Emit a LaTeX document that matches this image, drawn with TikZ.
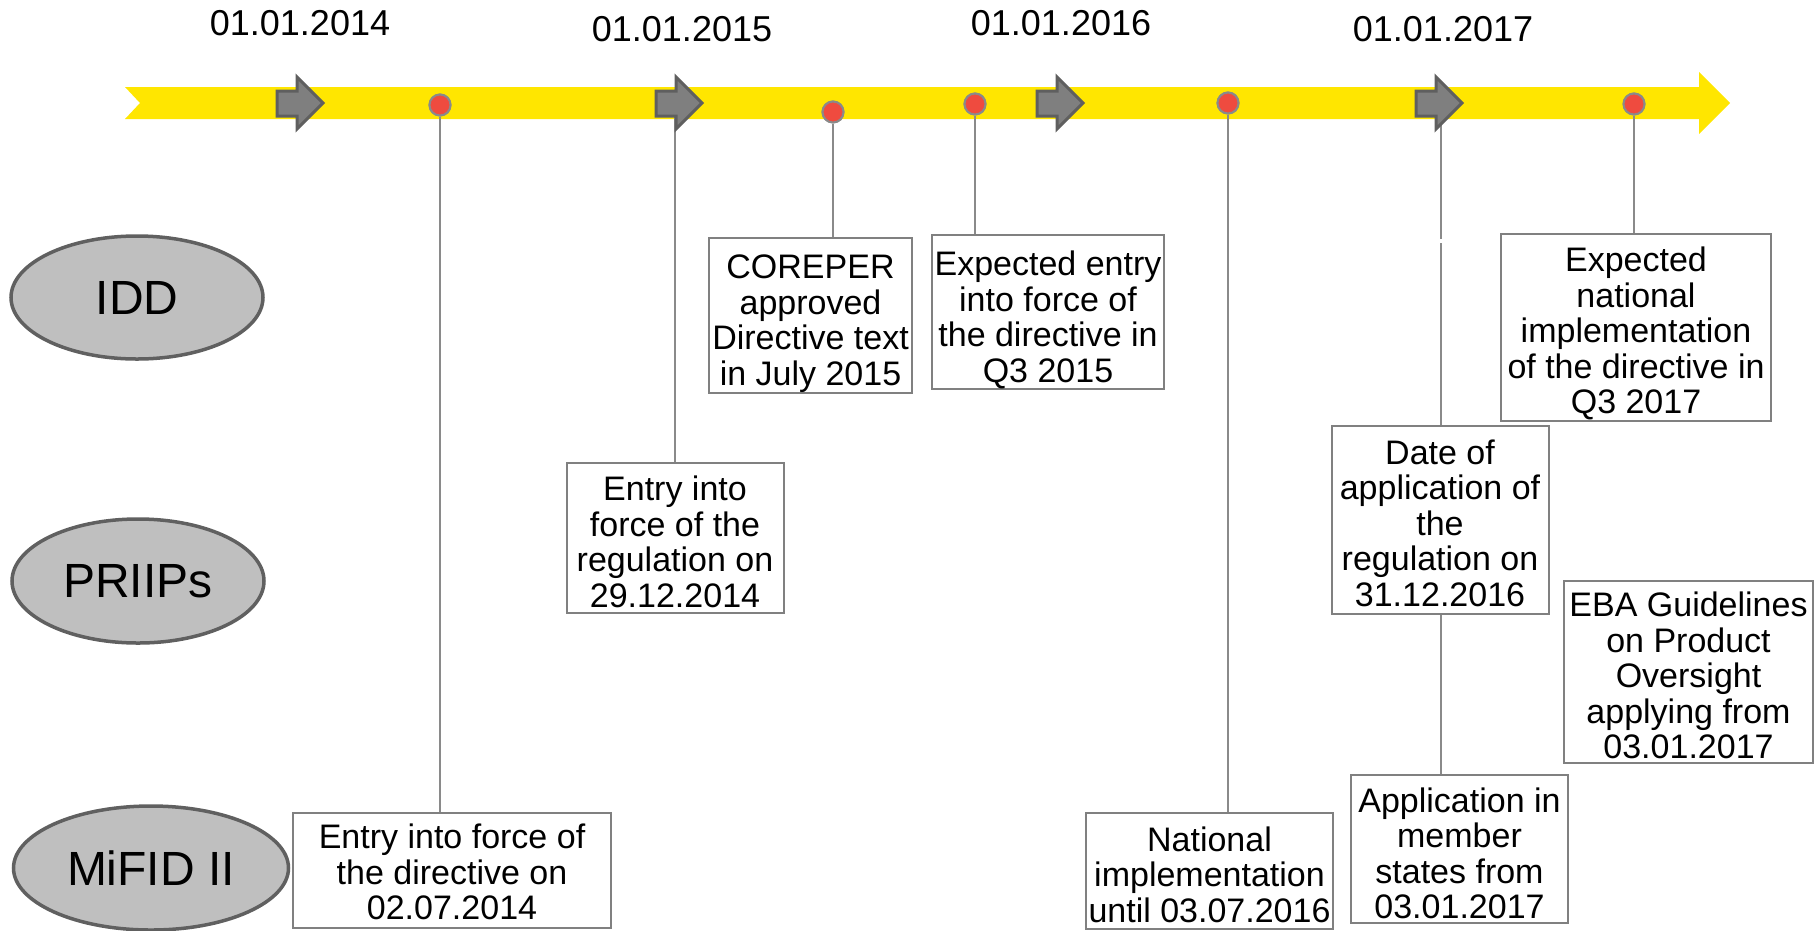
\documentclass[tikz,border=0pt]{standalone}
\usepackage{fontspec}
\setmainfont{Liberation Sans}
\usetikzlibrary{shapes.geometric}
\definecolor{band}{HTML}{FFE600}
\definecolor{arrowfill}{HTML}{7F7F7F}
\definecolor{arrowedge}{HTML}{5F5F5F}
\definecolor{dotred}{HTML}{EF4B3F}
\definecolor{linegray}{HTML}{8A8A8A}
\definecolor{boxgray}{HTML}{808080}
\definecolor{ovalfill}{HTML}{BFBFBF}
\definecolor{ovaledge}{HTML}{606060}
\tikzset{
  x=1pt, y=-1pt,
  datelabel/.style={font=\fontsize{36}{38}\selectfont, inner sep=0pt},
  infobox/.style={draw=boxgray, line width=2pt, fill=white, align=center,
    inner sep=0pt, font=\fontsize{34}{35.5}\selectfont},
  oval/.style={ellipse, draw=ovaledge, fill=ovalfill, line width=3.5pt,
    inner sep=0pt, font=\fontsize{48}{50}\selectfont},
  dot/.style={circle, fill=dotred, draw=linegray, line width=2pt,
    minimum size=21pt, inner sep=0pt},
  link/.style={draw=linegray, line width=2pt},
  pointer/.style={fill=arrowfill, draw=arrowedge, line width=3pt, line join=miter},
}
% invisible strut on a box's first line; its height sets how far the text sits down
\newcommand{\firstline}[1]{\rule{0pt}{#1pt}}
\newcommand{\yearmark}[2]{% #1 = left end of the shaft, #2 = name
  \draw[pointer] (#1,91) -- (#1+20,91) -- (#1+20,77) -- (#1+46,103)
    -- (#1+20,129) -- (#1+20,116) -- (#1,116) -- cycle;
  \coordinate (#2) at (#1+22,103);
}
\begin{document}
\begin{tikzpicture}
\useasboundingbox (0,0) rectangle (1814,930);

% yellow time band with notched tail and arrow head
\fill[band] (125,87) -- (1699,87) -- (1699,72) -- (1730,103) -- (1699,134)
  -- (1699,119) -- (125,119) -- (140,103) -- cycle;

% year labels
\node[datelabel] (y14) at (300,23.5) {01.01.2014};
\node[datelabel] (y15) at (682,29.5) {01.01.2015};
\node[datelabel] (y16) at (1061,23.5) {01.01.2016};
\node[datelabel] (y17) at (1443,29.5) {01.01.2017};

% event markers on the band
\node[dot] (d1) at (440,105) {};
\node[dot] (d2) at (833,112) {};
\node[dot] (d3) at (975,104) {};
\node[dot] (d4) at (1228,103) {};
\node[dot] (d5) at (1634,104) {};

% regulation ovals
\node[oval, minimum width=252pt, minimum height=123pt] (idd) at (137,297.5) {IDD};
\node[oval, minimum width=252pt, minimum height=124pt] (priips) at (138,581) {PRIIPs};
\node[oval, minimum width=275pt, minimum height=124pt] (mifid) at (151,868) {MiFID II};

% event boxes
\node[infobox, minimum width=318pt, minimum height=115pt] (b1) at (452,870.5)
  {\firstline{27.6}Entry into force of\\the directive on\\02.07.2014};
\node[infobox, minimum width=217pt, minimum height=150pt] (b2) at (675,538)
  {\firstline{32.6}Entry into\\force of the\\regulation on\\29.12.2014};
\node[infobox, minimum width=203pt, minimum height=155pt] (b3) at (810.5,315.5)
  {\firstline{39.6}COREPER\\approved\\Directive text\\in July 2015};
\node[infobox, minimum width=232pt, minimum height=152pt] (b4) at (1048,312)
  {\firstline{40.6}Expected entry\\into force of\\the directive in\\Q3 2015};
\node[infobox, minimum width=270pt, minimum height=187pt] (b5) at (1636,327.5)
  {\firstline{36.6}Expected\\national\\implementation\\of the directive in\\Q3 2017};
\node[infobox, minimum width=217pt, minimum height=188pt] (b6) at (1440,520)
  {\firstline{30.6}Date of\\application of\\the\\regulation on\\31.12.2016};
\node[infobox, minimum width=249pt, minimum height=182pt] (b7) at (1688.5,672)
  {\firstline{31.6}EBA Guidelines\\on Product\\Oversight\\applying from\\03.01.2017};
\node[infobox, minimum width=217pt, minimum height=148pt] (b8) at (1459.5,849)
  {\firstline{33.6}Application in\\member\\states from\\03.01.2017};
\node[infobox, minimum width=247pt, minimum height=116pt] (b9) at (1209.5,871)
  {\firstline{31.6}National\\implementation\\until 03.07.2016};

% points where the year-arrow connectors start, and the break in the last one
\coordinate (a1) at (299,103);
\coordinate (a2) at (678,103);
\coordinate (a3) at (1060,103);
\coordinate (a4) at (1438,103);
\coordinate (gapTop) at (1441,239);
\coordinate (gapBot) at (1441,243);

% connectors (drawn under markers and arrows)
\draw[link] (d1) -- (d1 |- b1.north);
\draw[link] (a2 -| b2.north) -- (b2.north);
\draw[link] (d2) -- (d2 |- b3.north);
\draw[link] (d3) -- (d3 |- b4.north);
\draw[link] (d4) -- (d4 |- b9.north);
\draw[link] (d5) -- (d5 |- b5.north);
\draw[link] (a4 -| gapTop) -- (gapTop);
\draw[link] (gapBot) -- (gapBot |- b6.north);
\draw[link] (b6.south -| gapBot) -- (gapBot |- b8.north);

% year arrows and markers on top of the connectors
\yearmark{277}{m1}
\yearmark{656}{m2}
\yearmark{1037}{m3}
\yearmark{1416}{m4}
\node[dot] at (d1) {};
\node[dot] at (d2) {};
\node[dot] at (d3) {};
\node[dot] at (d4) {};
\node[dot] at (d5) {};
\end{tikzpicture}
\end{document}
